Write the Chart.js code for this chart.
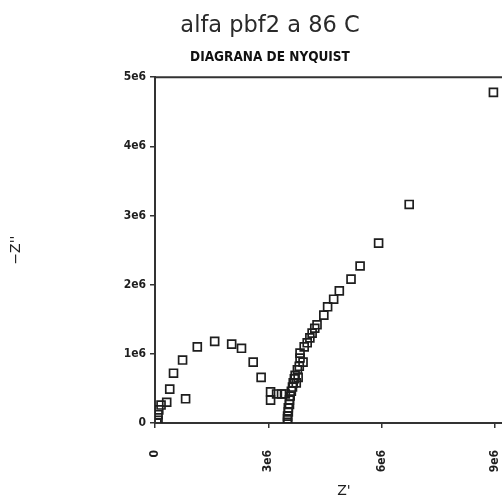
<!DOCTYPE html>
<html>
<head>
<meta charset="utf-8">
<script src="https://cdn.jsdelivr.net/npm/chart.js@4.4.1/dist/chart.umd.min.js"></script>
<style>
  html, body { margin: 0; padding: 0; background: #fff; overflow: hidden; }
  #wrap { width: 540px; height: 504px; }
</style>
</head>
<body>
<div id="wrap"><canvas id="nyquist" width="540" height="504"></canvas></div>
<script>
// impedance points (ohm)
const zReal = [
  0.05e6, 0.08e6, 0.08e6, 0.10e6, 0.16e6, 0.31e6, 0.39e6, 0.49e6, 0.73e6, 1.12e6,
  1.58e6, 2.03e6, 2.29e6, 2.60e6, 2.81e6, 0.81e6, 3.06e6, 3.06e6, 3.22e6, 3.35e6,
  3.45e6,
  3.51e6, 3.51e6, 3.51e6, 3.53e6, 3.53e6, 3.56e6, 3.56e6, 3.58e6, 3.61e6, 3.64e6,
  3.66e6, 3.69e6, 3.71e6, 3.77e6, 3.74e6, 3.79e6, 3.82e6, 3.84e6, 3.92e6, 3.84e6,
  3.95e6, 4.03e6, 4.10e6, 4.16e6, 4.23e6, 4.29e6, 4.47e6, 4.57e6, 4.73e6, 4.88e6,
  5.19e6, 5.43e6, 5.92e6, 6.73e6, 8.96e6
];
const zImag = [
  0.00e6, 0.04e6, 0.12e6, 0.19e6, 0.26e6, 0.30e6, 0.49e6, 0.72e6, 0.91e6, 1.10e6,
  1.18e6, 1.14e6, 1.08e6, 0.88e6, 0.66e6, 0.35e6, 0.45e6, 0.33e6, 0.42e6, 0.42e6,
  0.42e6,
  0.01e6, 0.06e6, 0.10e6, 0.16e6, 0.22e6, 0.27e6, 0.33e6, 0.39e6, 0.46e6, 0.52e6,
  0.58e6, 0.64e6, 0.69e6, 0.77e6, 0.58e6, 0.66e6, 0.82e6, 0.94e6, 0.88e6, 1.01e6,
  1.10e6, 1.16e6, 1.23e6, 1.30e6, 1.37e6, 1.42e6, 1.56e6, 1.68e6, 1.79e6, 1.91e6,
  2.08e6, 2.27e6, 2.60e6, 3.16e6, 4.78e6
];

const xTickValues = [0, 3e6, 6e6, 9e6];
const xTickLabels = ["0", "3e6", "6e6", "9e6"];
const yTickValues = [0, 1e6, 2e6, 3e6, 4e6, 5e6];
const yTickLabels = ["0", "1e6", "2e6", "3e6", "4e6", "5e6"];

const ink = "#1e1e1e";

const points = zReal.map((x, i) => ({ x: x, y: zImag[i] }));

// top frame line of the plot box
const frameTop = {
  id: "frameTop",
  afterDraw(chart) {
    const a = chart.chartArea;
    const ctx = chart.ctx;
    ctx.save();
    ctx.strokeStyle = "#333";
    ctx.lineWidth = 2;
    ctx.beginPath();
    ctx.moveTo(a.left, a.top);
    ctx.lineTo(a.right, a.top);
    ctx.stroke();
    ctx.restore();
  }
};

new Chart(document.getElementById("nyquist").getContext("2d"), {
  type: "scatter",
  data: {
    datasets: [{
      data: points,
      pointStyle: "rect",
      pointRadius: 5.6,
      borderWidth: 1.7,
      borderColor: ink,
      backgroundColor: "rgba(0,0,0,0)"
    }]
  },
  options: {
    responsive: false,
    animation: false,
    layout: { padding: 0 },
    plugins: {
      legend: { display: false },
      tooltip: { enabled: false },
      title: {
        display: true,
        text: "alfa pbf2 a 86 C",
        color: "#2a2a2a",
        font: { family: "DejaVu Sans", size: 22.5, weight: "normal" },
        padding: { top: 13, bottom: 5 }
      },
      subtitle: {
        display: true,
        text: "DIAGRANA DE NYQUIST",
        color: "#111",
        font: { family: "DejaVu Sans Condensed", size: 13.5, weight: "bold" },
        padding: { top: 4, bottom: 12 }
      }
    },
    scales: {
      x: {
        type: "linear",
        min: 0,
        max: 10e6,
        afterBuildTicks: s => { s.ticks = xTickValues.map(v => ({ value: v })); },
        afterFit: s => { s.height = 81; },
        ticks: {
          callback: (v, i) => xTickLabels[i],
          minRotation: 90,
          maxRotation: 90,
          color: ink,
          padding: 22,
          font: { family: "DejaVu Sans Condensed", size: 12, weight: "bold" }
        },
        grid: { drawOnChartArea: false, tickLength: 5, color: "#333", lineWidth: 1.5 },
        border: { color: "#333", width: 2 },
        title: {
          display: true,
          text: "Z'",
          color: ink,
          font: { family: "DejaVu Sans", size: 14 },
          padding: { top: 0, bottom: 4 }
        }
      },
      y: {
        type: "linear",
        min: 0,
        max: 5e6,
        afterBuildTicks: s => { s.ticks = yTickValues.map(v => ({ value: v })); },
        afterFit: s => { s.width = 155; },
        ticks: {
          callback: (v, i) => yTickLabels[i],
          color: ink,
          padding: 4,
          font: { family: "DejaVu Sans Condensed", size: 12, weight: "bold" }
        },
        grid: { drawOnChartArea: false, tickLength: 5, color: "#333", lineWidth: 1.5 },
        border: { color: "#333", width: 2 },
        title: {
          display: true,
          text: "\u2212Z''",
          color: ink,
          font: { family: "DejaVu Sans", size: 14 },
          padding: { top: 8, bottom: 0 }
        }
      }
    }
  },
  plugins: [frameTop]
});
</script>
</body>
</html>
